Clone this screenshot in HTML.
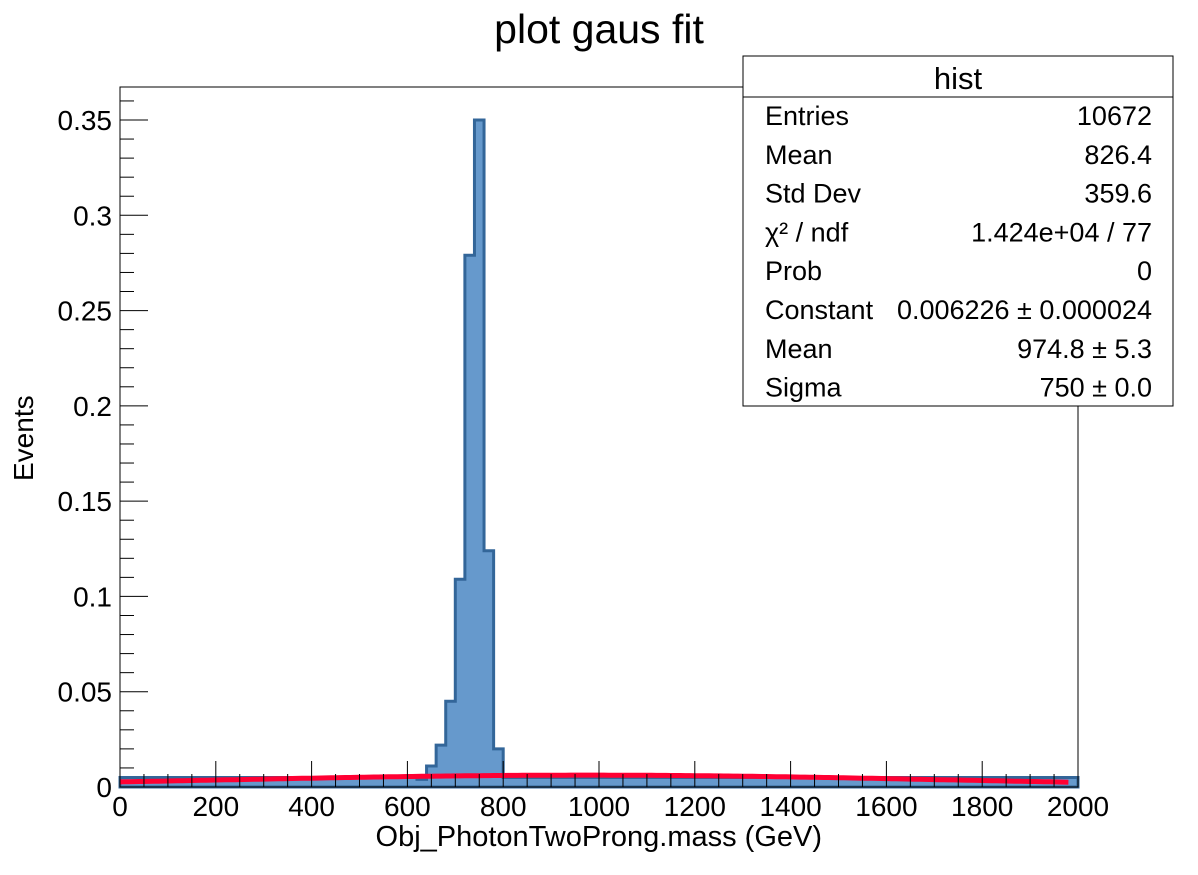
<!DOCTYPE html>
<html><head><meta charset="utf-8"><style>
html,body{margin:0;padding:0;background:#fff;}
svg{display:block;font-family:"Liberation Sans",Arial,sans-serif;}
</style></head><body>
<svg id="chart" width="1198" height="875" viewBox="0 0 1198 875" xmlns="http://www.w3.org/2000/svg">
<rect width="1198" height="875" fill="#fff"/>
<text x="599" y="43" font-size="41" text-anchor="middle">plot gaus fit</text>
<g id="hist"></g>
<g id="fit"></g>
<rect x="120" y="87" width="958" height="700" fill="none" stroke="#000" stroke-width="1"/>
<g id="axes"></g>
<text x="822" y="846" font-size="29" text-anchor="end">Obj_PhotonTwoProng.mass (GeV)</text>
<text transform="translate(33,481) rotate(-90)" font-size="28">Events</text>
<g>
<rect x="743" y="56" width="430" height="350" fill="#fff" stroke="#000" stroke-width="1"/>
<line x1="743" y1="97" x2="1173" y2="97" stroke="#000"/>
<text x="958" y="89" font-size="31" text-anchor="middle">hist</text>
<g id="stats" font-size="27"></g>
</g>
</svg>
<script>
const binEdgesStart = 0, binWidth = 20;
const binValues = [
0.005,0.005,0.005,0.005,0.005,0.005,0.005,0.005,0.005,0.005,
0.005,0.005,0.005,0.005,0.005,0.005,0.005,0.005,0.005,0.005,
0.005,0.005,0.005,0.005,0.005,0.005,0.005,0.005,0.005,0.005,
0.005,0.004,0.011,0.022,0.045,0.109,0.279,0.35,0.124,0.020,
0.005,0.005,0.005,0.005,0.005,0.005,0.005,0.005,0.005,0.005,
0.005,0.005,0.005,0.005,0.005,0.005,0.005,0.005,0.005,0.005,
0.005,0.005,0.005,0.005,0.005,0.005,0.005,0.005,0.005,0.005,
0.005,0.005,0.005,0.005,0.005,0.005,0.005,0.005,0.005,0.005,
0.005,0.005,0.005,0.005,0.005,0.005,0.005,0.005,0.005,0.005,
0.005,0.005,0.005,0.005,0.005,0.005,0.005,0.005,0.005,0.005];
const fitParams = [0.006226, 974.8, 750];
const fitRange = [0, 1980];
const xTicks = [0,200,400,600,800,1000,1200,1400,1600,1800,2000];
const yTicks = [0,0.05,0.1,0.15,0.2,0.25,0.3,0.35];
const yTickLabels = ["0","0.05","0.1","0.15","0.2","0.25","0.3","0.35"];
const statLabels = ["Entries","Mean","Std Dev","χ² / ndf","Prob","Constant","Mean","Sigma"];
const statValues = ["10672","826.4","359.6","1.424e+04 / 77","0","0.006226 ± 0.000024","974.8 ± 5.3","750 ± 0.0"];

const NS="http://www.w3.org/2000/svg";
const X0=120,X1=1078,Y0=787,YTOP=87;
const xs=v=>X0+(v-0)/2000*(X1-X0);
const ys=v=>Y0-v/0.35*(Y0-120);
function mk(tag,attrs,parent){const e=document.createElementNS(NS,tag);for(const k in attrs)e.setAttribute(k,attrs[k]);parent.appendChild(e);return e;}

const hg=document.getElementById('hist');
let d=`M${xs(binEdgesStart)},${Y0}`;
binValues.forEach((v,i)=>{const a=binEdgesStart+i*binWidth;d+=` L${xs(a)},${ys(v)} L${xs(a+binWidth)},${ys(v)}`;});
d+=` L${xs(binEdgesStart+binValues.length*binWidth)},${Y0} Z`;
const hp=mk('path',{d:d,fill:'#6699cc',stroke:'#336699','stroke-width':3,'stroke-linejoin':'miter'},hg);



const fg=document.getElementById('fit');
let pts=[];
for(let x=fitRange[0];x<=fitRange[1];x+=10){const y=fitParams[0]*Math.exp(-0.5*Math.pow((x-fitParams[1])/fitParams[2],2));pts.push(xs(x).toFixed(1)+','+ys(y).toFixed(1));}
const fl=mk('polyline',{points:pts.join(' '),fill:'none',stroke:'#ff0033','stroke-width':5},fg);



const ag=document.getElementById('axes');
for(let v=0;v<=2000;v+=50){const major=v%200===0;mk('line',{x1:xs(v),x2:xs(v),y1:Y0,y2:Y0-(major?26:13),stroke:'#000','stroke-width':1},ag);}
xTicks.forEach(v=>{const t=mk('text',{x:xs(v),y:816,'font-size':28,'text-anchor':'middle'},ag);t.textContent=v;

});
for(let i=0;;i++){const v=i*0.01;const y=ys(v);if(y<YTOP)break;const major=i%5===0;mk('line',{x1:X0,x2:X0+(major?28:14),y1:y,y2:y,stroke:'#000','stroke-width':1},ag);}
yTicks.forEach((v,i)=>{const t=mk('text',{x:112,y:ys(v)+10,'font-size':28,'text-anchor':'end'},ag);t.textContent=yTickLabels[i];

});

const sg=document.getElementById('stats');
statLabels.forEach((l,i)=>{const y=125+i*38.8;
const a=mk('text',{x:765,y:y},sg);a.textContent=l;


const b=mk('text',{x:1152,y:y,'text-anchor':'end'},sg);b.textContent=statValues[i];

});
</script>
</body></html>
